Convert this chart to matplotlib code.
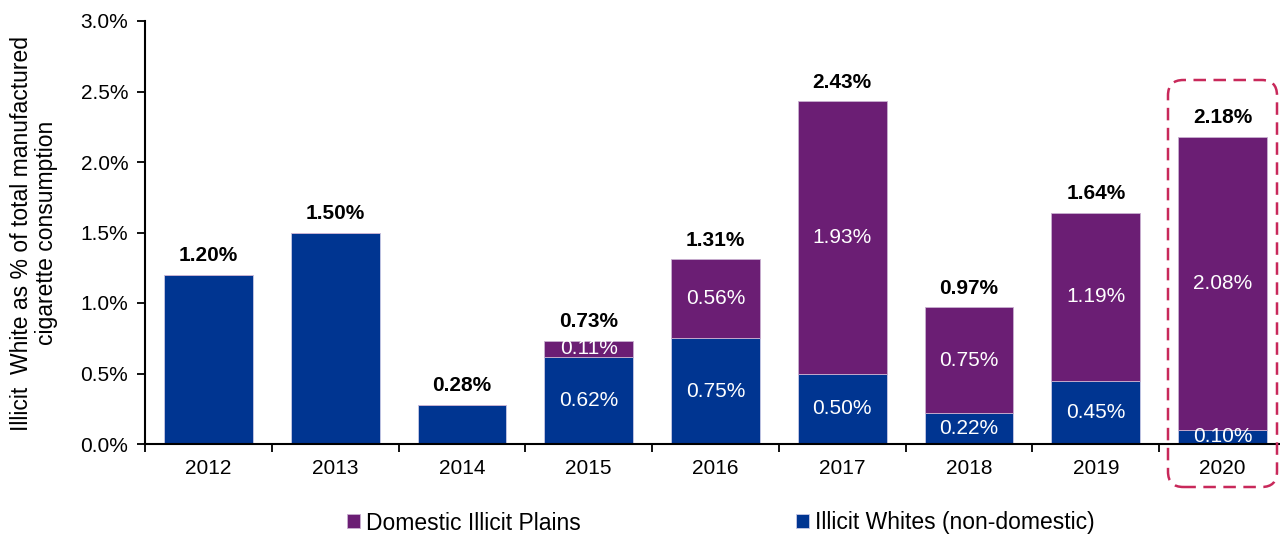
import matplotlib
matplotlib.use("Agg")
import matplotlib.pyplot as plt
from matplotlib.patches import FancyBboxPatch
import numpy as np

plt.rcParams['font.family'] = ['Liberation Sans', 'DejaVu Sans']

years = ["2012", "2013", "2014", "2015", "2016", "2017", "2018", "2019", "2020"]
illicit_whites = [1.20, 1.50, 0.28, 0.62, 0.75, 0.50, 0.22, 0.45, 0.10]
domestic_plains = [0.00, 0.00, 0.00, 0.11, 0.56, 1.93, 0.75, 1.19, 2.08]
totals = [1.20, 1.50, 0.28, 0.73, 1.31, 2.43, 0.97, 1.64, 2.18]
yticks = [0.0, 0.5, 1.0, 1.5, 2.0, 2.5, 3.0]

navy = "#003591"
purple = "#6B1E74"

W, H = 1280, 536
fig = plt.figure(figsize=(W / 100, H / 100), dpi=100)
ax = fig.add_axes([145 / W, 92 / H, 1141 / W, 423 / H])

x = np.arange(len(years))
bw = 0.70
b1 = ax.bar(x, illicit_whites, width=bw, color=navy, edgecolor="#c9c9e6",
            linewidth=0.6, label="Illicit Whites (non-domestic)", zorder=2)
b2 = ax.bar(x, domestic_plains, width=bw, bottom=illicit_whites, color=purple,
            edgecolor="#c9b0d0", linewidth=0.6, label="Domestic Illicit Plains",
            zorder=2)

# segment labels, only for stacked years
for i in range(len(years)):
    if domestic_plains[i] > 0:
        ax.text(x[i], illicit_whites[i] / 2, f"{illicit_whites[i]:.2f}%",
                ha="center", va="center", color="white", fontsize=15, zorder=3)
        ax.text(x[i], illicit_whites[i] + domestic_plains[i] / 2,
                f"{domestic_plains[i]:.2f}%", ha="center", va="center",
                color="white", fontsize=15, zorder=3)
    ax.annotate(f"{totals[i]:.2f}%", (x[i], totals[i]), xytext=(0, 7),
                textcoords="offset points", ha="center", va="bottom",
                fontsize=15, fontweight="bold", color="black")

ax.set_xlim(-0.5, len(years) - 0.5)
ax.set_ylim(0, 3.0)
ax.set_yticks(yticks)
ax.set_yticklabels([f"{v:.1f}%" for v in yticks], fontsize=15)
ax.set_xticks(x)
ax.set_xticklabels(years, fontsize=15)
ax.set_xticks(np.arange(-0.5, len(years), 1.0), minor=True)
ax.tick_params(axis="x", which="major", length=0, pad=11)
ax.tick_params(axis="x", which="minor", length=6, width=1.3, direction="out")
ax.tick_params(axis="y", length=6, width=1.3, direction="out", pad=6)

for s in ["top", "right"]:
    ax.spines[s].set_visible(False)
ax.spines["left"].set_linewidth(1.5)
ax.spines["bottom"].set_linewidth(1.5)

fig.text(34 / W, 0.565, "Illicit  White as % of total manufactured\ncigarette consumption",
         rotation=90, ha="center", va="center", fontsize=16.5, linespacing=1.1)

# highlight box around the latest year
box = FancyBboxPatch((1168 / W, 1 - 487 / H), 109 / W, 407 / H,
                     boxstyle="round,pad=0,rounding_size=0.012",
                     mutation_aspect=W / H, transform=fig.transFigure,
                     fill=False, edgecolor="#C8285A", linewidth=1.8,
                     linestyle=(0, (5, 3)), clip_on=False)
fig.patches.append(box)

leg = fig.legend(handles=[b2, b1], loc="center", bbox_to_anchor=(0.563, 1 - 523 / H),
                 ncol=2, frameon=False, fontsize=16.5, handlelength=0.57,
                 handleheight=0.57, handletextpad=0.26, columnspacing=9.4)

fig.savefig("out.png", dpi=100)
